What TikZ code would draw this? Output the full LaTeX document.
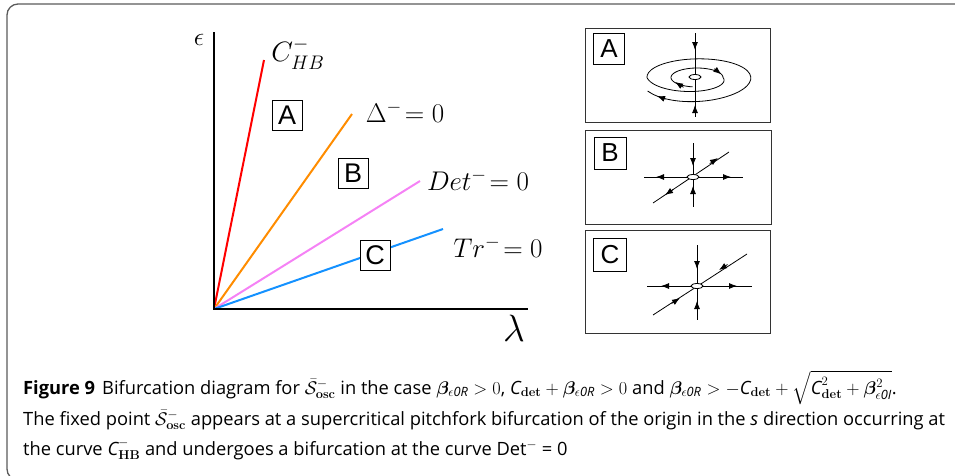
\RequirePackage{fix-cm}
\documentclass[tikz,border=0pt]{standalone}
\usepackage[no-math]{fontspec}
\setmainfont{Open Sans}
\setsansfont{Liberation Sans}
\usepackage{amsmath,amssymb,bm}
\usetikzlibrary{arrows.meta,shapes.geometric}
\definecolor{cred}{RGB}{255,0,0}
\definecolor{corange}{RGB}{255,140,0}
\definecolor{cpink}{RGB}{245,130,245}
\definecolor{cblue}{RGB}{20,145,255}
\definecolor{framec}{RGB}{90,90,90}
\begin{document}
\begin{tikzpicture}[x=1pt,y=-1pt,
  ax/.style={line width=1.4pt,black},
  curve/.style={line width=2pt},
  lbox/.style={draw,fill=white,line width=1pt,inner sep=0pt,minimum size=30pt,font=\sffamily\fontsize{27}{27}\selectfont},
  plbox/.style={draw,line width=0.9pt,inner sep=0pt,minimum size=31pt,font=\sffamily\fontsize{26}{26}\selectfont},
  panel/.style={draw=black!80,line width=1pt,minimum width=185pt,minimum height=94pt,inner sep=0pt},
  pl/.style={line width=0.8pt},
  ah/.style={-{Latex[length=8pt,width=6pt]},line width=0.8pt},
  fp/.style={draw,fill=white,ellipse,minimum width=12pt,minimum height=5pt,inner sep=0pt,line width=0.8pt},
  lab/.style={font=\fontsize{27}{30}\selectfont},
  captext/.style={anchor=base west,inner sep=0pt,font=\fontsize{18.3}{22}\selectfont}]
\useasboundingbox (0,0) rectangle (955,475);
\draw[framec,line width=1.3pt,rounded corners=11pt] (7,4) rectangle (985,480);

% axes and curves
\coordinate (O) at (214,309);
\coordinate (ytop) at (214,32);
\coordinate (xend) at (528,309);
\coordinate (rEnd) at (264,60);
\coordinate (oEnd) at (352,114);
\coordinate (pEnd) at (420,181);
\coordinate (bEnd) at (443,229);
\draw[curve,cred] (O) -- (rEnd);
\draw[curve,corange] (O) -- (oEnd);
\draw[curve,cpink] (O) -- (pEnd);
\draw[curve,cblue] (O) -- (bEnd);
\draw[ax] (ytop) -- (O) -- (xend);

\node[font=\fontsize{26}{28}\selectfont] (eps) at (199,40) {$\epsilon$};
\node[font=\fontsize{38}{40}\selectfont] (lam) at (514,328) {$\lambda$};
\node[font=\fontsize{28}{30}\selectfont] (lHB) at (298,54) {$C^{-}_{HB}$};
\node[lab] (lD) at (405,112) {$\Delta^{-}\!= 0$};
\node[lab] (lDet) at (478,180) {$Det^{-}\!= 0$};
\node[lab] (lTr) at (498,247) {$Tr^{-}\!= 0$};

\node[lbox] (bA) at (287,115) {A};
\node[lbox] (bB) at (353,173) {B};
\node[lbox] (bC) at (375,255) {C};

% panel A
\node[panel] (pA) at (677.5,75) {};
\node[plbox] (lA) at (609,49) {A};
\coordinate (aT) at (695,33);
\coordinate (aB) at (695,117);
\draw[pl,variable=\t,samples=40,smooth]
  plot[domain=100:360] ({697+26*cos(\t)},{77.5+9.5*sin(\t)})
  -- plot[domain=360:540] ({697+(26+24*(\t-360)/180)*cos(\t)},{77.5+(9.5+8.5*(\t-360)/180)*sin(\t)})
  -- plot[domain=540:870] ({697+(50+7*(\t-540)/330)*cos(\t)},{77.5+(18+9*((\t-540)/330)^2)*sin(\t)});
\draw[pl] (aT) -- (aB);
\draw[ah] (695,37) -- (695,50);
\draw[ah] (695,116) -- (695,105);
\draw[ah] (683.5,87.3) -- (675,82);
\draw[ah] (714.3,68.7) -- (721.4,74.3);
\draw[ah] (665.4,99.2) -- (657,96);
\node[fp] (cA) at (695,77) {};

% panel B
\node[panel,minimum width=186pt] (pB) at (678,177) {};
\node[plbox,minimum size=32pt] (lB) at (610,153) {B};
\coordinate (bT) at (693,143);
\coordinate (bBo) at (693,207);
\coordinate (bL) at (644,177);
\coordinate (bR) at (743,177);
\coordinate (bD1) at (653,203);
\coordinate (bD2) at (729,152);
\draw[pl] (bT) -- (bBo);
\draw[pl] (bL) -- (bR);
\draw[pl] (bD1) -- (bD2);
\draw[ah] (693,154) -- (693,166);
\draw[ah] (693,198) -- (693,186);
\draw[ah] (668,177) -- (656,177);
\draw[ah] (719,177) -- (731,177);
\draw[ah] (709.7,163.6) -- (718,158);
\draw[ah] (673.3,189.4) -- (665,195);
\node[fp] (cB) at (693,177) {};

% panel C
\node[panel,minimum height=103pt] (pC) at (677.5,281.5) {};
\node[plbox,minimum size=33pt] (lC) at (610,255) {C};
\coordinate (cT) at (697,245);
\coordinate (cBo) at (697,320);
\coordinate (cL) at (647,286);
\coordinate (cR) at (752,286);
\coordinate (cD1) at (653,315);
\coordinate (cD2) at (747,254);
\draw[pl] (cT) -- (cBo);
\draw[pl] (cL) -- (cR);
\draw[pl] (cD1) -- (cD2);
\draw[ah] (697,257) -- (697,269);
\draw[ah] (697,313) -- (697,301);
\draw[ah] (673,286) -- (661,286);
\draw[ah] (725,286) -- (737,286);
\draw[ah] (727.5,264.5) -- (719,270);
\draw[ah] (671.5,303.5) -- (680,298);
\node[fp] (cC) at (697,286) {};

% caption
\node[captext] (c1) at (23,394) {\textbf{Figure 9}\hspace{7pt}Bifurcation diagram for $\bar{\mathcal{S}}^{-}_{\mathbf{osc}}$ in the case $\bm{\beta}_{\epsilon\textit{0R}}>0$, $\textit{C}_{\mathbf{det}}+\bm{\beta}_{\epsilon\textit{0R}}>0$ and $\bm{\beta}_{\epsilon\textit{0R}}>-\textit{C}_{\mathbf{det}}+\sqrt{\textit{C}^{2}_{\mathbf{det}}+\bm{\beta}^{2}_{\epsilon\textit{0I}}}$.};
\node[captext] (c2) at (23,425) {The fixed point $\bar{\mathcal{S}}^{-}_{\mathbf{osc}}$ appears at a supercritical pitchfork bifurcation of the origin in the \textit{s} direction occurring at};
\node[captext] (c3) at (23,455) {the curve $\textit{C}^{-}_{\mathbf{HB}}$ and undergoes a bifurcation at the curve Det$^{-}$ = 0};
\end{tikzpicture}
\end{document}
